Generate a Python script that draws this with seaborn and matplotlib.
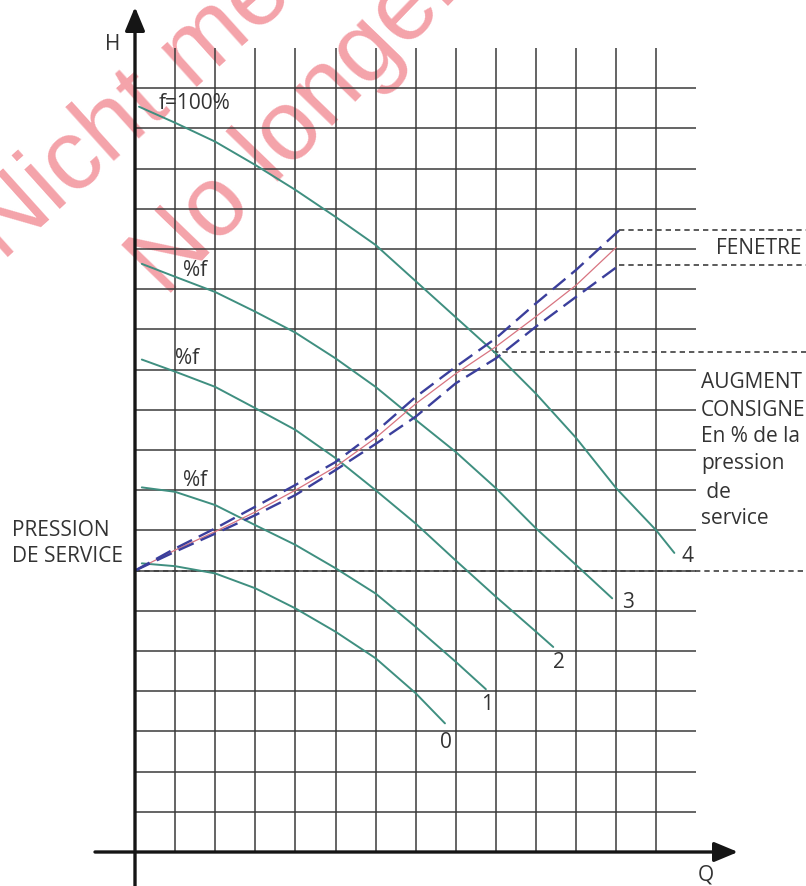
import numpy as np
import pandas as pd
import matplotlib
matplotlib.use("Agg")
import matplotlib.pyplot as plt
import seaborn as sns

# ---------------- data (grid units: Q along flow axis, H head) ----------------
curve_labels = ["0", "1", "2", "3", "4"]

q0 = [0.17, 1, 2, 3, 4, 5, 6, 7, 7.73]
h0 = [7.18, 7.11, 6.93, 6.56, 6.06, 5.48, 4.82, 3.95, 3.2]

q1 = [0.17, 1, 2, 3, 4, 5, 6, 7, 8, 8.75]
h1 = [9.07, 8.96, 8.63, 8.13, 7.64, 7.06, 6.43, 5.6, 4.73, 4.05]

q2 = [0.17, 1, 2, 3, 4, 5, 6, 7, 8, 9, 10, 10.43]
h2 = [12.25, 11.95, 11.57, 11.04, 10.5, 9.8, 9.0, 8.17, 7.25, 6.35, 5.48, 5.1]

q3 = [0.17, 1, 2, 3, 4, 5, 6, 7, 8, 9, 10, 11, 11.9]
h3 = [14.63, 14.31, 13.93, 13.44, 12.92, 12.28, 11.57, 10.75, 9.95, 9.05, 8.05, 7.14, 6.31]

q4 = [0.1, 1, 2, 3, 4, 5, 6, 7, 8, 9, 10, 11, 12, 13, 13.45]
h4 = [18.54, 18.14, 17.67, 17.09, 16.47, 15.8, 15.1, 14.2, 13.3, 12.4, 11.4, 10.3, 9.05, 8.0, 7.44]

q_sys = [0, 1, 2, 3, 4, 5, 6, 7, 8, 9, 10, 11, 12]
h_sys = [7.0, 7.51, 7.97, 8.46, 9.0, 9.58, 10.3, 11.15, 11.9, 12.57, 13.32, 14.1, 15.04]

q_win = [0, 1, 2, 3, 4, 5, 6, 7, 8, 9, 10, 11, 12.08]
h_win_hi = [7.0, 7.55, 8.05, 8.59, 9.13, 9.7, 10.45, 11.32, 12.07, 12.78, 13.65, 14.48, 15.47]
h_win_lo = [7.0, 7.47, 7.92, 8.38, 8.88, 9.5, 10.15, 10.83, 11.66, 12.28, 13.07, 13.81, 14.6]

h_service = 7.0
h_augment = 12.44
q_augment = 8.93
h_fen_hi = 15.47
h_fen_lo = 14.6
q_fen = 12.08

grid_q = list(range(1, 14))
grid_h = list(range(1, 20))

curve_names = ["f=100%", "%f", "%f", "%f"]

# ---------------- layout helpers ----------------
OX, OY, SX, SY = 135.0, 852.0, 40.1, 40.2
W, Hpx = 806, 886


def P(xp, yp):
    return ((xp - OX) / SX, (OY - yp) / SY)


sns.set_theme(style="white")
plt.rcParams['font.family'] = ['Open Sans', 'DejaVu Sans']

fig = plt.figure(figsize=(W / 100, Hpx / 100), dpi=100)
ax = fig.add_axes([0, 0, 1, 1])
x0, y1 = P(0, 0)
x1, y0 = P(W, Hpx)
ax.set_xlim(x0, x1)
ax.set_ylim(y0, y1)
ax.axis("off")

# watermark (under everything)
wm = dict(fontsize=72, color="#f4a3aa", family=["Liberation Sans", "DejaVu Sans"],
          rotation_mode="anchor", ha="left", va="baseline", zorder=0)
ax.text(*P(2, 262), "Nicht mehr", rotation=42, **wm)
ax.text(*P(166, 298), "No longer", rotation=46, **wm)

# grid
GRID = "#3a3a3a"
ax.vlines(grid_q, 0, 20, color=GRID, lw=1.1, zorder=1)
ax.hlines(grid_h, 0, 14, color=GRID, lw=1.1, zorder=1)

# reference dashed lines
REF = dict(color="#3f3f3f", lw=1.2, linestyles=(0, (3.2, 2.4)), zorder=2)
ax.hlines(h_service, 0, x1, **REF)
ax.hlines(h_augment, q_augment, x1, **REF)
ax.hlines([h_fen_hi, h_fen_lo], q_fen, x1, **REF)

# pump curves
TEAL = "#3f8f80"
for q, h in [(q0, h0), (q1, h1), (q2, h2), (q3, h3), (q4, h4)]:
    sns.lineplot(x=q, y=h, ax=ax, color=TEAL, lw=1.4, sort=False,
                 estimator=None, zorder=3)

# system curve & window
BLUE = "#3b3f9c"
sns.lineplot(x=q_sys, y=h_sys, ax=ax, color="#d87480", lw=0.9, sort=False,
             estimator=None, zorder=4)
for hh in (h_win_hi, h_win_lo):
    sns.lineplot(x=q_win, y=hh, ax=ax, color=BLUE, lw=1.7, sort=False,
                 estimator=None, linestyle=(0, (7, 3.2)), zorder=5)

# axes arrows
arr = dict(arrowstyle="-|>,head_length=1.2,head_width=0.5", color="#151515",
           lw=2.4, shrinkA=0, shrinkB=0)
ax.annotate("", xy=P(135, 7), xytext=P(135, 900), arrowprops=arr,
            annotation_clip=False, zorder=6)
ax.annotate("", xy=P(738, 852), xytext=P(95, 852), arrowprops=arr,
            annotation_clip=False, zorder=6)

TXT = "#333333"
FS = 15
ax.text(*P(113, 45), "H", fontsize=FS, color=TXT, ha="center", va="center")
ax.text(*P(706, 875), "Q", fontsize=FS, color=TXT, ha="center", va="center")

ax.text(*P(159, 104), curve_names[0], fontsize=FS, color=TXT, ha="left", va="center", zorder=7)
ax.text(*P(183, 271), curve_names[1], fontsize=FS, color=TXT, ha="left", va="center", zorder=7)
ax.text(*P(175, 358), curve_names[2], fontsize=FS, color=TXT, ha="left", va="center", zorder=7)
ax.text(*P(183, 481), curve_names[3], fontsize=FS, color=TXT, ha="left", va="center", zorder=7)

ax.text(*P(12, 530), "PRESSION", fontsize=FS, color=TXT, ha="left", va="center")
ax.text(*P(12, 557), "DE SERVICE", fontsize=FS, color=TXT, ha="left", va="center")

ax.text(*P(716, 249), "FENETRE", fontsize=FS, color=TXT, ha="left", va="center")
aug_lines = ["AUGMENT", "CONSIGNE", "En % de la", "pression", " de", "service"]
aug_y = [382, 410, 437, 464, 492, 519]
for s, yy in zip(aug_lines, aug_y):
    ax.text(*P(701, yy), s, fontsize=FS, color=TXT, ha="left", va="center")

lab_pos = [(446, 742), (487, 705), (559, 663), (628, 602), (688, 556)]
for s, (xp, yp) in zip(curve_labels, lab_pos):
    ax.text(*P(xp, yp), s, fontsize=FS, color=TXT, ha="center", va="center")

fig.savefig("out.png", dpi=100)
